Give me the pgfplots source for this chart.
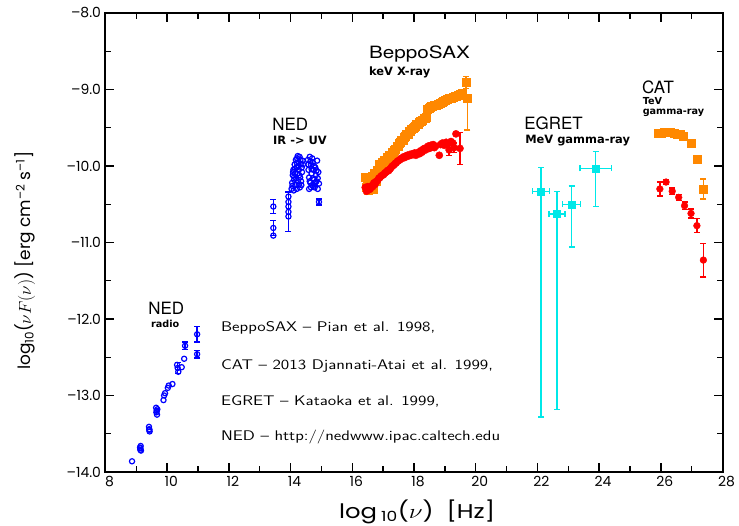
\documentclass[border=0pt]{standalone}
\usepackage{fontspec}
\setmainfont{TeX Gyre Heros}
\newfontfamily\pop{Poppins}
\newfontfamily\dvs{DejaVu Sans}
\usepackage{pgfplots}
\pgfplotsset{compat=1.18}
\definecolor{nedblue}{RGB}{0,0,255}
\definecolor{sred}{RGB}{255,0,0}
\definecolor{sorange}{RGB}{255,136,0}
\definecolor{egret}{RGB}{0,232,232}
\pgfplotsset{
  eb/.style={error bars/.cd, y dir=both, y explicit,
    error bar style={line width=1.4bp, color=#1},
    error mark=-,
    error mark options={rotate=90, mark size=3bp, line width=1.4bp, color=#1}},
}
\tikzset{
  sub/.style={anchor=west, inner sep=0pt, font=\dvs\bfseries\fontsize{11.5}{13}\selectfont},
  subs/.style={anchor=west, inner sep=0pt, font=\dvs\bfseries\fontsize{9.7}{11}\selectfont},
  big/.style={anchor=west, inner sep=0pt, font=\fontsize{17}{19}\selectfont},
  ann/.style={anchor=west, inner sep=0pt, font=\sffamily\fontsize{14}{16}\selectfont},
}
\begin{document}
\begin{tikzpicture}
\begin{axis}[
  scale only axis, width=617bp, height=459bp,
  xmin=8, xmax=28, ymin=-14, ymax=-8,
  axis line style={line width=2bp},
  xtick={8,10,...,28}, minor xtick={9,11,...,27},
  ytick={-14,-13,...,-8}, minor ytick={-13.5,-12.5,...,-8.5},
  xticklabels={8,10,12,14,16,18,20,22,24,26,28},
  yticklabels={–14.0,–13.0,–12.0,–11.0,–10.0,–9.0,–8.0},
  tick style={line width=1.4bp, black},
  major tick length=9bp, minor tick length=6bp,
  tick label style={font=\pop\fontsize{14}{16}\selectfont},
  xticklabel style={xshift=4bp, yshift=-1bp},
  yticklabel style={xshift=-1bp},
  xlabel={\scalebox{1.22}[1]{log\,\textsubscript{10}($\nu$)~~[Hz]}},
  ylabel={log\textsubscript{10}($\nu F(\nu)$) [erg cm\textsuperscript{–2} s\textsuperscript{–1}]},
  x label style={font=\pop\fontsize{20}{22}\selectfont, at={(axis description cs:0.505,-0.087)}, anchor=center},
  y label style={font=\pop\fontsize{17}{19}\selectfont, at={(axis description cs:-0.130,0.46)}, anchor=center, rotate=0},
  clip=false,
]
\coordinate (SW) at (rel axis cs:0,0);
\coordinate (NE) at (rel axis cs:1,1);

% NED radio
\addplot[only marks, mark=o, nedblue, mark size=2.6bp, line width=1.2bp] coordinates {
(8.86,-13.86) (9.12,-13.68) (9.13,-13.71) (9.14,-13.66) (9.15,-13.72) (9.13,-13.69)
(9.41,-13.41) (9.42,-13.44) (9.43,-13.47) (9.42,-13.45)
(9.64,-13.16) (9.66,-13.20) (9.67,-13.25) (9.65,-13.22) (9.68,-13.18)
(9.88,-13.06) (9.90,-13.00) (9.93,-12.97) (10.02,-12.90) (10.05,-12.87) (10.17,-12.85)
(10.32,-12.60) (10.36,-12.69) (10.47,-12.63) (10.55,-12.52)
};
\addplot[only marks, mark=o, nedblue, mark size=2.6bp, line width=1.2bp, eb=nedblue]
  table[x=x, y=y, y error=e] {
x y e
10.34 -12.64 0.07
10.58 -12.35 0.05
10.97 -12.20 0.10
10.97 -12.46 0.05
};

% NED IR -> UV
\addplot[only marks, mark=o, nedblue, mark size=2.6bp, line width=1.2bp] coordinates {
(13.93,-10.40) (13.93,-10.47) (13.93,-10.53) (13.93,-10.66) (13.44,-10.91)
(14.03,-10.30) (14.05,-10.22) (14.07,-10.12) (14.09,-10.05) (14.11,-10.18) (14.13,-9.98)
(14.15,-10.10) (14.17,-9.92) (14.19,-10.02) (14.21,-9.90) (14.23,-9.87) (14.25,-9.95)
(14.27,-10.05) (14.29,-9.88) (14.31,-10.15) (14.33,-9.97) (14.35,-10.25) (14.37,-10.08)
(14.39,-9.93) (14.10,-10.32) (14.20,-10.30) (14.30,-10.28) (14.24,-10.20) (14.16,-10.25)
(14.28,-10.12) (14.36,-10.02) (14.14,-10.04) (14.22,-10.10)
(14.06,-10.26) (14.12,-10.14) (14.18,-10.16) (14.26,-10.00) (14.32,-9.92) (14.34,-10.20)
(14.08,-10.08) (14.20,-9.96) (14.27,-10.24) (14.40,-9.98)
(14.56,-9.92) (14.58,-10.05) (14.60,-10.15) (14.62,-9.88) (14.64,-10.22) (14.66,-9.98)
(14.68,-10.10) (14.70,-10.25) (14.72,-9.95) (14.74,-10.05) (14.76,-10.18) (14.78,-10.28)
(14.80,-10.02) (14.82,-10.12) (14.84,-10.20) (14.86,-9.93) (14.88,-10.30) (14.90,-10.08)
(14.92,-10.23) (14.66,-10.28) (14.60,-10.30) (14.70,-9.90) (14.76,-10.00)
(14.58,-9.98) (14.62,-10.20) (14.68,-10.04) (14.72,-10.16) (14.80,-10.22) (14.84,-10.06)
(14.64,-9.94) (14.74,-10.26) (14.88,-10.16)
};
\addplot[only marks, mark=o, nedblue, mark size=2.6bp, line width=1.2bp, eb=nedblue]
  table[x=x, y=y, y error=e] {
x y e
13.44 -10.53 0.09
13.44 -10.81 0.10
13.93 -10.60 0.26
14.92 -10.47 0.04
};

% BeppoSAX orange
\addplot[only marks, mark=square*, color=sorange, mark size=4bp] table {
16.42 -10.15
16.44 -10.28
16.48 -10.20
16.52 -10.32
16.56 -10.16
16.60 -10.26
16.64 -10.13
16.68 -10.30
16.72 -10.10
16.76 -10.20
16.80 -10.05
16.84 -10.12
16.88 -9.98
16.92 -10.04
16.96 -9.95
17.00 -9.98
17.04 -9.92
17.08 -9.94
17.12 -9.89
17.16 -9.91
17.20 -9.86
17.24 -9.88
17.28 -9.82
17.32 -9.84
17.36 -9.79
17.40 -9.78
17.44 -9.74
17.48 -9.74
17.52 -9.70
17.56 -9.69
17.60 -9.66
17.64 -9.66
17.68 -9.62
17.72 -9.61
17.76 -9.58
17.80 -9.58
17.84 -9.55
17.88 -9.54
17.92 -9.52
17.96 -9.51
18.00 -9.49
18.04 -9.48
18.08 -9.46
18.12 -9.45
18.16 -9.43
18.20 -9.42
18.24 -9.41
18.28 -9.40
18.32 -9.38
18.36 -9.38
18.40 -9.36
18.44 -9.26
18.48 -9.24
18.52 -9.23
18.56 -9.22
18.60 -9.22
18.66 -9.21
18.72 -9.20
18.78 -9.19
18.84 -9.18
18.90 -9.17
18.96 -9.15
19.02 -9.14
19.08 -9.13
19.14 -9.12
19.20 -9.11
19.26 -9.10
19.32 -9.09
19.38 -9.09
19.44 -9.07
19.50 -9.06
19.56 -9.05
};
\addplot[only marks, mark=square*, color=sorange, mark size=4bp, eb=sorange]
  table[x=x, y=y, y error plus=ep, y error minus=em] {
x y ep em
19.69 -8.91 0.08 0.08
19.73 -9.11 0.0 0.42
};

% BeppoSAX red
\addplot[only marks, mark=*, color=sred, mark size=3.6bp] table {
16.42 -10.28
16.46 -10.33
16.50 -10.27
16.54 -10.31
16.58 -10.30
16.62 -10.26
16.66 -10.27
16.70 -10.22
16.74 -10.24
16.78 -10.20
16.82 -10.19
16.86 -10.16
16.90 -10.15
16.94 -10.13
16.98 -10.12
17.02 -10.11
17.06 -10.09
17.10 -10.08
17.14 -10.06
17.18 -10.06
17.22 -10.04
17.26 -10.02
17.30 -10.00
17.34 -9.99
17.38 -9.97
17.42 -9.96
17.46 -9.94
17.50 -9.93
17.54 -9.92
17.58 -9.90
17.62 -9.90
17.66 -9.88
17.70 -9.89
17.74 -9.87
17.78 -9.86
17.82 -9.87
17.86 -9.85
17.90 -9.86
17.94 -9.84
17.98 -9.85
18.02 -9.83
18.06 -9.86
18.10 -9.84
18.14 -9.82
18.18 -9.84
18.22 -9.80
18.26 -9.82
18.30 -9.78
18.34 -9.77
18.38 -9.79
18.42 -9.76
18.46 -9.74
18.50 -9.77
18.54 -9.73
18.58 -9.75
18.62 -9.72
18.66 -9.76
18.70 -9.74
18.82 -9.86
18.86 -9.72
18.92 -9.70
18.98 -9.73
19.04 -9.69
19.10 -9.71
19.20 -9.68
19.26 -9.70
19.36 -9.58
};
\addplot[only marks, mark=*, color=sred, mark size=3.6bp, eb=sred]
  table[x=x, y=y, y error=e] {
x y e
19.14 -9.79 0.07
19.30 -9.76 0.06
19.49 -9.77 0.21
};

% EGRET
\addplot[only marks, mark=square*, color=egret, mark size=3.5bp, eb=egret,
  x dir=both, x explicit]
  table[x=x, y=y, x error=xe, y error plus=ep, y error minus=em] {
x y xe ep em
22.12 -10.33 0.28 0.31 2.95
22.63 -10.63 0.26 0.30 2.55
23.11 -10.50 0.29 0.24 0.56
23.89 -10.03 0.51 0.22 0.50
};

% CAT orange
\addplot[only marks, mark=square*, color=sorange, mark size=4bp, eb=sorange]
  table[x=x, y=y, y error=e] {
x y e
25.92 -9.57 0
26.02 -9.57 0
26.12 -9.56 0
26.22 -9.56 0
26.32 -9.56 0
26.42 -9.57 0
26.52 -9.58 0
26.62 -9.59 0
26.73 -9.61 0
26.98 -9.70 0
27.17 -9.91 0.03
27.38 -10.30 0.13
};

% CAT red
\addplot[only marks, mark=*, color=sred, mark size=3.4bp, eb=sred]
  table[x=x, y=y, y error=e] {
x y e
25.97 -10.30 0.09
26.17 -10.21 0.03
26.37 -10.33 0.04
26.58 -10.41 0.04
26.77 -10.52 0.05
26.98 -10.62 0.06
27.17 -10.78 0.09
27.38 -11.23 0.22
};

% labels
\node[big] at (axis cs:9.38,-11.856) {NED};
\node[subs] at (axis cs:9.47,-12.06) {radio};
\node[big] at (axis cs:13.40,-9.45) {NED};
\node[sub] at (axis cs:13.43,-9.67) {IR -> UV};
\node[big] at (axis cs:16.54,-8.54) {\scalebox{1.22}[1]{BeppoSAX}};
\node[sub] at (axis cs:16.54,-8.77) {keV X-ray};
\node[big] at (axis cs:21.57,-9.447) {EGRET};
\node[sub] at (axis cs:21.60,-9.67) {MeV gamma-ray};
\node[big] at (axis cs:25.39,-8.97) {CAT};
\node[subs] at (axis cs:25.41,-9.15) {TeV};
\node[subs] at (axis cs:25.41,-9.30) {gamma-ray};

\node[ann] at (axis cs:11.74,-12.12) {\scalebox{1.23}[1]{BeppoSAX -- Pian et al. 1998,}};
\node[ann] at (axis cs:11.74,-12.61) {\scalebox{1.23}[1]{CAT -- 2013 Djannati-Atai et al. 1999,}};
\node[ann] at (axis cs:11.74,-13.08) {\scalebox{1.23}[1]{EGRET -- Kataoka et al. 1999,}};
\node[ann] at (axis cs:11.74,-13.54) {\scalebox{1.23}[1]{NED -- http://nedwww.ipac.caltech.edu}};
\end{axis}
\pgfresetboundingbox
\path[use as bounding box] ([shift={(-105.5bp,-54bp)}]SW) rectangle ([shift={(16.5bp,13bp)}]NE);
\end{tikzpicture}
\end{document}
